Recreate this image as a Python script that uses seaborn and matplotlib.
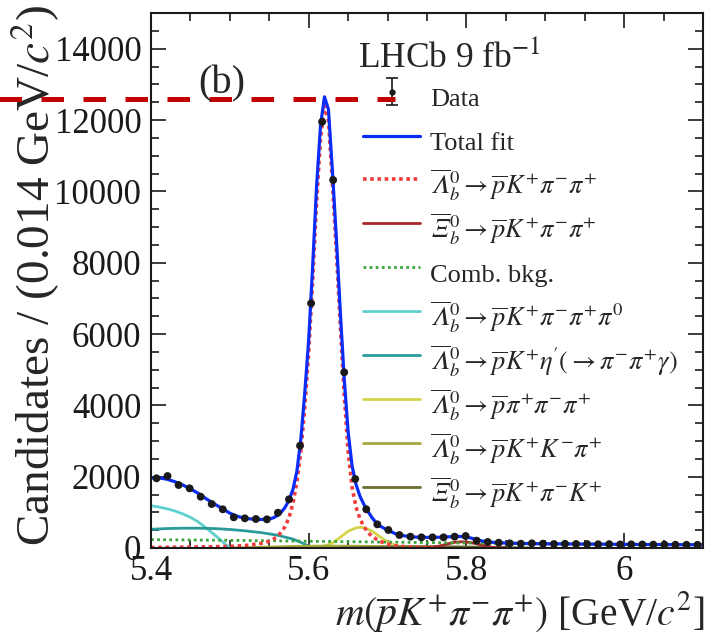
import numpy as np
import pandas as pd
import seaborn as sns
import matplotlib
matplotlib.use("Agg")
import matplotlib.pyplot as plt
from matplotlib.ticker import MultipleLocator, FuncFormatter
from matplotlib.lines import Line2D

# ---------------- data ----------------
bin_low = 5.4
bin_width = 0.014
data_counts = [1954, 2018, 1766, 1673, 1438, 1233, 1085, 860, 832, 813,
               804, 990, 1365, 2868, 6860, 11950, 10317, 4926, 1934, 1085,
               664, 505, 364, 318, 299, 299, 299, 318, 336, 206,
               168, 149, 131, 121, 131, 121, 112, 118, 112, 110,
               105, 108, 100, 102, 98, 95, 97, 92, 90, 88]

total_x = [5.400, 5.410, 5.420, 5.430, 5.440, 5.450, 5.460, 5.470, 5.480, 5.490,
           5.500, 5.510, 5.520, 5.530, 5.540, 5.550, 5.555, 5.560, 5.565, 5.570,
           5.575, 5.580, 5.585, 5.590, 5.595, 5.600, 5.605, 5.610, 5.615, 5.620,
           5.625, 5.630, 5.635, 5.640, 5.645, 5.650, 5.655, 5.660, 5.665, 5.670,
           5.675, 5.680, 5.685, 5.690, 5.700, 5.710, 5.720, 5.730, 5.740, 5.750,
           5.760, 5.770, 5.780, 5.790, 5.800, 5.810, 5.820, 5.830, 5.840, 5.850,
           5.875, 5.900, 5.950, 6.000, 6.050, 6.100]
total_y = [1960, 1965, 1930, 1860, 1770, 1660, 1530, 1380, 1240, 1110,
           975, 885, 830, 808, 800, 815, 845, 905, 1000, 1140,
           1340, 1640, 2150, 3050, 4350, 5850, 7900, 10150, 11850, 12650,
           12300, 10600, 8700, 6650, 4750, 3250, 2300, 1780, 1450, 1220,
           1030, 860, 720, 620, 500, 400, 345, 315, 300, 298,
           300, 305, 315, 325, 310, 255, 195, 165, 150, 138,
           126, 118, 110, 102, 96, 90]

sig_x = [5.400, 5.450, 5.500, 5.520, 5.540, 5.550, 5.555, 5.560, 5.565, 5.570,
         5.575, 5.580, 5.585, 5.590, 5.595, 5.600, 5.605, 5.610, 5.615, 5.620,
         5.625, 5.630, 5.635, 5.640, 5.645, 5.650, 5.655, 5.660, 5.665, 5.670,
         5.675, 5.680, 5.690, 5.700, 5.710, 5.720, 5.740, 5.760]
sig_y = [15, 25, 45, 70, 130, 190, 245, 320, 440, 600,
         850, 1250, 1850, 2700, 3950, 5500, 7500, 9700, 11500, 12400,
         12000, 10250, 8350, 6250, 4300, 2700, 1700, 1150, 820, 600,
         440, 330, 190, 110, 65, 40, 20, 10]

xib_x = [5.740, 5.755, 5.765, 5.775, 5.785, 5.795, 5.805, 5.815, 5.825, 5.835, 5.850]
xib_y = [0, 15, 50, 110, 160, 175, 155, 105, 50, 15, 0]

comb_x = [5.40, 5.50, 5.60, 5.70, 5.80, 5.90, 6.00, 6.10]
comb_y = [235, 215, 190, 165, 140, 120, 105, 95]

pi0_x = [5.400, 5.410, 5.420, 5.430, 5.440, 5.450, 5.460, 5.470, 5.480, 5.490, 5.495, 5.500]
pi0_y = [1185, 1150, 1100, 1040, 960, 860, 730, 560, 380, 190, 90, 0]

etap_x = [5.400, 5.420, 5.440, 5.460, 5.480, 5.500, 5.520, 5.540, 5.560, 5.580, 5.590, 5.600, 5.605]
etap_y = [525, 545, 555, 555, 545, 520, 480, 430, 360, 250, 160, 50, 0]

pppp_x = [5.600, 5.610, 5.620, 5.630, 5.640, 5.650, 5.660, 5.665, 5.670, 5.680, 5.690, 5.700, 5.710, 5.720, 5.730]
pppp_y = [0, 15, 50, 140, 300, 470, 565, 580, 570, 480, 320, 170, 70, 20, 0]

pkkp_x = [5.50, 5.54, 5.58, 5.62, 5.66, 5.70, 5.74, 5.78, 5.82]
pkkp_y = [0, 20, 45, 55, 50, 40, 25, 10, 0]

xipk_x = [5.64, 5.68, 5.72, 5.76, 5.80, 5.84, 5.88]
xipk_y = [0, 15, 35, 40, 30, 12, 0]

peak_marker_level = 12600

LB = "\\overline{\U0001D6EC}{}_b^{0}"
XB = "\\overline{\U0001D6EF}{}_b^{0}"
labels = ["Data", "Total fit",
          rf"${LB} \to \overline{{p}}K^{{+}}\pi^{{-}}\pi^{{+}}$",
          rf"${XB} \to \overline{{p}}K^{{+}}\pi^{{-}}\pi^{{+}}$",
          "Comb. bkg.",
          rf"${LB} \to \overline{{p}}K^{{+}}\pi^{{-}}\pi^{{+}}\pi^{{0}}$",
          rf"${LB} \to \overline{{p}}K^{{+}}\eta\mathrm{{'}}(\to\pi^{{-}}\pi^{{+}}\gamma)$",
          rf"${LB} \to \overline{{p}}\pi^{{+}}\pi^{{-}}\pi^{{+}}$",
          rf"${LB} \to \overline{{p}}K^{{+}}K^{{-}}\pi^{{+}}$",
          rf"${XB} \to \overline{{p}}K^{{+}}\pi^{{-}}K^{{+}}$"]

# ---------------- style ----------------
sns.set_theme(style="ticks")
plt.rcParams["font.family"] = ["Liberation Serif", "DejaVu Serif"]
plt.rcParams["mathtext.fontset"] = "stix"
plt.rcParams["axes.linewidth"] = 1.5

fig = plt.figure(figsize=(7.06, 6.35), dpi=100)
ax = fig.add_axes([151 / 706, 87 / 635, 552 / 706, 535 / 635])

counts = np.array(data_counts, dtype=float)
centers = bin_low + bin_width * (np.arange(len(counts)) + 0.5)

C_TOT, C_SIG, C_XIB, C_COMB = "#0a2cf5", "#f03c3c", "#a8282a", "#3aa53a"
C_PI0, C_ETA, C_PPPP, C_PKKP, C_XIPK = "#5fd0d0", "#2b9a9a", "#d4d44a", "#a8a83c", "#6e6e2e"
DOT = (0, (1.0, 1.2))

components = [
    (pi0_x, pi0_y, C_PI0, "-", 2.0),
    (etap_x, etap_y, C_ETA, "-", 2.0),
    (pppp_x, pppp_y, C_PPPP, "-", 2.0),
    (pkkp_x, pkkp_y, C_PKKP, "-", 2.0),
    (xipk_x, xipk_y, C_XIPK, "-", 2.0),
    (xib_x, xib_y, C_XIB, "-", 2.0),
    (comb_x, comb_y, C_COMB, DOT, 2.0),
]
for xs, ys, c, ls, lw in components:
    sns.lineplot(x=xs, y=ys, ax=ax, color=c, linestyle=ls, lw=lw, sort=False)

sns.lineplot(x=sig_x, y=sig_y, ax=ax, color=C_SIG, linestyle=(0, (1.0, 1.0)), lw=2.6, sort=False)
sns.lineplot(x=total_x, y=total_y, ax=ax, color=C_TOT, lw=2.3, sort=False)

ax.errorbar(centers, counts, yerr=np.sqrt(counts), fmt="none", ecolor="k", elinewidth=1.0, zorder=5)
sns.scatterplot(x=centers, y=counts, ax=ax, color="k", s=32, edgecolor="none", zorder=6)

# legend handles
data_h = ax.errorbar([np.nan], [np.nan], yerr=[np.nan], fmt="o", ms=3.5, color="k",
                     capsize=4, elinewidth=1.2, capthick=1.2)
handles = [data_h,
           Line2D([], [], color=C_TOT, lw=2.3),
           Line2D([], [], color=C_SIG, lw=2.6, ls=(0, (1.0, 1.0))),
           Line2D([], [], color=C_XIB, lw=2.0),
           Line2D([], [], color=C_COMB, lw=2.0, ls=DOT),
           Line2D([], [], color=C_PI0, lw=2.0),
           Line2D([], [], color=C_ETA, lw=2.0),
           Line2D([], [], color=C_PPPP, lw=2.0),
           Line2D([], [], color=C_PKKP, lw=2.0),
           Line2D([], [], color=C_XIPK, lw=2.0)]
leg = ax.legend(handles, labels, loc="upper left",
                bbox_to_anchor=(363 / 706, 1 - 77 / 635), bbox_transform=fig.transFigure,
                frameon=False, fontsize=19, handlelength=2.16, handletextpad=0.38,
                handleheight=2.075, labelspacing=0.07, borderpad=0, borderaxespad=0)

# axes
ax.set_xlim(5.4, 6.1)
ax.set_ylim(0, 15000)
ax.xaxis.set_major_locator(MultipleLocator(0.2))
ax.xaxis.set_minor_locator(MultipleLocator(0.05))
ax.yaxis.set_major_locator(MultipleLocator(2000))
ax.yaxis.set_minor_locator(MultipleLocator(500))
ax.xaxis.set_major_formatter(FuncFormatter(lambda v, p: f"{v:g}"))
ax.yaxis.set_major_formatter(FuncFormatter(lambda v, p: f"{v:.0f}"))
ax.tick_params(which="both", direction="in", top=True, right=True, width=1.2, colors="k")
ax.tick_params(which="major", length=11, labelsize=25)
ax.tick_params(axis="y", which="major", pad=7)
ax.tick_params(axis="x", which="major", pad=5)
ax.tick_params(which="minor", length=6)
for s in ax.spines.values():
    s.set_color("k")

ax.set_xlabel(r"$m(\overline{p}K^{+}\pi^{-}\pi^{+})$ [GeV/$c^{2}$]", fontsize=28.5,
              ha="right", va="baseline")
ax.xaxis.set_label_coords(1.003, -0.144)
ax.set_ylabel(r"Candidates / (0.014 GeV/$c^{2}$)", fontsize=34, ha="right")
ax.yaxis.set_label_coords(-0.161, 1.015)

fig.text(358 / 706, 1 - 68 / 635, r"LHCb 9 fb$^{-1}$", fontsize=25.5, ha="left", va="baseline")
fig.text(198 / 706, 1 - 93 / 635, "(b)", fontsize=29, ha="left", va="baseline")

ax.axhline(peak_marker_level, xmin=-0.283, xmax=0.442, color="#c40000", lw=3.6,
           ls=(0, (4.5, 3.9)), clip_on=False, zorder=10)

fig.savefig("out.png", dpi=100)
